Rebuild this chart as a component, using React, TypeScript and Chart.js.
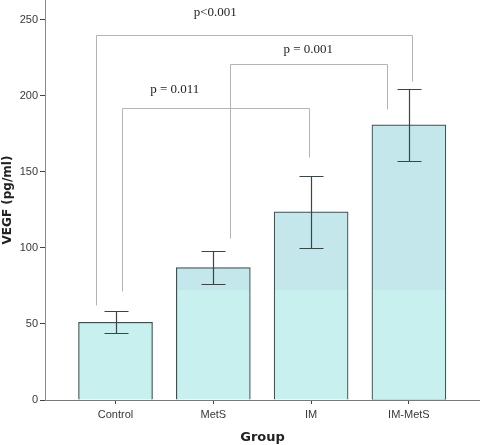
import { Chart, registerables } from "chart.js";
import React, { useEffect, useRef } from "react";

Chart.register(...registerables);

// group names along the x axis
const categories = ["Control", "MetS", "IM", "IM-MetS"];
// mean VEGF (pg/ml) per group
const means = [51.1, 87.0, 123.7, 180.9];
// error bar ends
const errHigh = [58.6, 97.8, 147.4, 204.6];
const errLow = [44.1, 76.1, 99.8, 157.4];
const yTicks = [0, 50, 100, 150, 200, 250];

// significance brackets: leg positions (in category units), leg bottoms and top line
const bracketLabels = ["p<0.001", "p = 0.001", "p = 0.011"];
const bracketLeftX = [-0.2, 1.174, 0.07];
const bracketRightX = [3.03, 2.776, 1.98];
const bracketLeftBottom = [62.5, 106.4, 71.9];
const bracketRightBottom = [209.9, 191.2, 159.7];
const bracketTop = [240.3, 220.8, 192.3];
const bracketLabelX = [1.02, 1.97, 0.605];
const bracketLabelY = [254.6, 230.7, 203.9];

// value below which the bar fill turns lighter
const FILL_SPLIT = 72;

const px = (v: number) => Math.round(v) + 0.5;

const annotationsPlugin = {
  id: "annotations",
  afterDatasetsDraw(chart: any) {
    const { ctx, scales } = chart;
    const x = scales.x;
    const y = scales.y;
    ctx.save();

    // error bars
    ctx.strokeStyle = "#3a4646";
    ctx.lineWidth = 1.2;
    categories.forEach((_, i) => {
      const cx = px(x.getPixelForValue(i));
      const hi = px(y.getPixelForValue(errHigh[i]));
      const lo = px(y.getPixelForValue(errLow[i]));
      ctx.beginPath();
      ctx.moveTo(cx, hi);
      ctx.lineTo(cx, lo);
      ctx.moveTo(cx - 12, hi);
      ctx.lineTo(cx + 12, hi);
      ctx.moveTo(cx - 12, lo);
      ctx.lineTo(cx + 12, lo);
      ctx.stroke();
    });

    // brackets
    ctx.strokeStyle = "#b4b4b4";
    ctx.lineWidth = 1;
    bracketLabels.forEach((label, i) => {
      const lx = px(x.getPixelForValue(bracketLeftX[i]));
      const rx = px(x.getPixelForValue(bracketRightX[i]));
      const top = px(y.getPixelForValue(bracketTop[i]));
      ctx.beginPath();
      ctx.moveTo(lx, px(y.getPixelForValue(bracketLeftBottom[i])));
      ctx.lineTo(lx, top);
      ctx.lineTo(rx, top);
      ctx.lineTo(rx, px(y.getPixelForValue(bracketRightBottom[i])));
      ctx.stroke();

      ctx.fillStyle = "#1e1e1e";
      ctx.font = '13px "Liberation Serif", serif';
      ctx.textAlign = "center";
      ctx.textBaseline = "middle";
      ctx.fillText(
        label,
        x.getPixelForValue(bracketLabelX[i]),
        y.getPixelForValue(bracketLabelY[i])
      );
    });

    ctx.restore();
  },
};

const App: React.FC = () => {
  const canvasRef = useRef<HTMLCanvasElement>(null);

  useEffect(() => {
    if (!canvasRef.current) return;

    const chart = new Chart(canvasRef.current, {
      type: "bar",
      data: {
        datasets: [
          {
            label: "VEGF",
            data: categories.map((_, i) => ({ x: i, y: means[i] })),
            backgroundColor: (ctx: any) => {
              const { chart: c } = ctx;
              const area = c.chartArea;
              if (!area) return "#c7efef";
              const split = c.scales.y.getPixelForValue(FILL_SPLIT);
              const g = c.ctx.createLinearGradient(0, area.top, 0, area.bottom);
              const f = Math.min(Math.max((split - area.top) / (area.bottom - area.top), 0), 1);
              g.addColorStop(0, "#c4e7ec");
              g.addColorStop(f, "#c4e7ec");
              g.addColorStop(f, "#c8f0ef");
              g.addColorStop(1, "#c8f0ef");
              return g;
            },
            borderColor: "#3e5050",
            borderWidth: 1.2,
            barThickness: 74,
          } as any,
        ],
      },
      options: {
        animation: false,
        responsive: true,
        maintainAspectRatio: false,
        layout: { padding: 0 },
        plugins: {
          legend: { display: false },
          tooltip: { enabled: false },
        },
        scales: {
          x: {
            type: "linear",
            min: -0.721,
            max: 3.727,
            offset: false,
            grid: {
              offset: false,
              drawOnChartArea: false,
              drawTicks: true,
              tickLength: 4,
              color: "#444",
            },
            border: { color: "#7a7a7a", width: 1 },
            afterBuildTicks: (scale: any) => {
              scale.ticks = categories.map((_, i) => ({ value: i }));
            },
            afterFit: (scale: any) => {
              scale.height = 45;
              scale.paddingLeft = 0;
              scale.paddingRight = 0;
            },
            ticks: {
              padding: 4,
              color: "#383838",
              font: { family: "'Liberation Sans', sans-serif", size: 11 },
              callback: (value: any) => categories[value as number] ?? "",
            },
            title: {
              display: true,
              text: "Group",
              color: "#222",
              padding: { top: 0, bottom: 0 },
              font: { family: "'DejaVu Sans', sans-serif", size: 13, weight: "bold" },
            },
          },
          y: {
            min: 0,
            max: 263,
            grid: {
              drawOnChartArea: false,
              drawTicks: true,
              tickLength: 5,
              color: "#444",
            },
            border: { color: "#8a8a8a", width: 1 },
            afterBuildTicks: (scale: any) => {
              scale.ticks = yTicks.map((v) => ({ value: v }));
            },
            afterFit: (scale: any) => {
              scale.width = 45;
              scale.paddingTop = 0;
              scale.paddingBottom = 0;
            },
            ticks: {
              padding: 2,
              color: "#383838",
              font: { family: "'Liberation Sans', sans-serif", size: 11 },
            },
            title: {
              display: true,
              text: "VEGF (pg/ml)",
              color: "#222",
              padding: { top: 1, bottom: 0 },
              font: { family: "'DejaVu Sans', sans-serif", size: 12, weight: "bold" },
            },
          },
        },
      } as any,
      plugins: [annotationsPlugin],
    });

    return () => chart.destroy();
  }, []);

  return (
    <div style={{ position: "absolute", left: 0, top: 0, width: 480, height: 445 }}>
      <canvas ref={canvasRef}></canvas>
    </div>
  );
};

export default App;
